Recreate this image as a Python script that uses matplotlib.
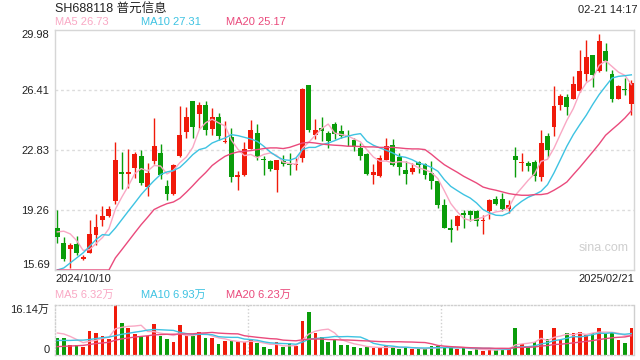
import numpy as np
import matplotlib
matplotlib.use("Agg")
import matplotlib.pyplot as plt

plt.rcParams['font.family'] = ['Liberation Sans', 'Noto Sans CJK SC', 'DejaVu Sans']

RED = '#f01a0a'
GREEN = '#0a9c0a'
C_MA5 = '#f9a8c4'
C_MA10 = '#3ec3e2'
C_MA20 = '#ea4a7c'

title = "SH688118 普元信息"
stamp = "02-21 14:17"
date_first = "2024/10/10"
date_last = "2025/02/21"
price_ticks = [15.69, 19.26, 22.83, 26.41, 29.98]
vol_max = 16.14

opens = [18.19, 17.30, 16.96, 17.24, 16.37, 16.73, 17.80, 18.69, 18.93, 19.82,
         21.53, 21.43, 21.77, 22.50, 20.65, 22.20, 22.64, 20.71, 20.24, 22.50,
         23.89, 25.73, 25.00, 25.50, 24.11, 24.78, 23.29, 23.61, 21.25, 21.37,
         22.90, 23.83, 22.30, 22.16, 21.67, 22.16, 22.02, 21.92, 22.36, 26.69,
         23.75, 24.15, 23.83, 24.38, 23.95, 23.71, 23.41, 22.96, 22.60, 21.37,
         21.31, 22.26, 23.13, 22.40, 21.63, 21.53, 22.10, 22.00, 21.47, 21.01,
         19.54, 18.19, 18.33, 19.05, 19.19, 19.19, 18.59, 19.19, 19.92, 19.92,
         19.32, 22.50, 22.06, 22.06, 22.10, 21.21, 23.69, 24.21, 25.50, 25.99,
         25.89, 26.37, 27.36, 28.47, 27.52, 28.71, 27.36, 25.89, 26.47, 25.60]
highs = [19.29, 17.64, 17.30, 17.74, 16.61, 18.65, 19.03, 19.48, 19.48, 23.31,
         22.70, 22.90, 22.70, 22.86, 22.06, 24.74, 23.19, 21.07, 22.00, 25.44,
         25.40, 25.77, 25.69, 25.73, 25.34, 25.04, 24.54, 24.15, 21.57, 23.29,
         24.62, 24.38, 22.46, 22.26, 22.26, 22.52, 22.66, 22.36, 26.53, 26.69,
         24.68, 24.78, 23.95, 24.50, 24.30, 24.05, 23.55, 23.25, 22.66, 22.00,
         22.56, 23.55, 23.49, 22.66, 22.16, 22.06, 22.20, 22.06, 22.16, 21.01,
         19.94, 18.73, 18.99, 19.29, 19.29, 19.25, 18.99, 19.92, 20.12, 20.28,
         19.88, 23.02, 22.66, 22.20, 22.26, 24.01, 23.85, 26.63, 26.17, 26.17,
         27.22, 28.81, 29.40, 28.51, 29.75, 29.21, 27.62, 26.73, 27.12, 27.02]
lows = [17.30, 16.25, 15.80, 16.61, 16.27, 16.73, 17.20, 18.29, 18.83, 19.62,
        20.52, 20.57, 21.17, 20.77, 20.08, 22.00, 21.11, 19.88, 20.18, 22.40,
        23.55, 23.55, 24.15, 23.73, 23.75, 23.43, 23.25, 20.91, 20.48, 21.31,
        22.90, 22.26, 21.37, 21.61, 20.32, 21.90, 21.37, 21.67, 22.12, 23.91,
        23.51, 23.35, 22.96, 23.51, 23.55, 23.06, 22.76, 22.22, 21.33, 20.81,
        21.21, 22.26, 21.86, 21.37, 20.83, 21.41, 21.47, 21.13, 20.52, 19.39,
        18.19, 17.36, 18.05, 18.19, 18.63, 18.33, 17.86, 18.73, 19.54, 19.19,
        19.09, 21.23, 21.57, 21.57, 21.01, 21.01, 22.42, 23.69, 25.24, 24.90,
        25.89, 26.29, 26.96, 26.57, 27.48, 27.52, 25.69, 25.87, 26.13, 24.90]
closes = [17.64, 16.37, 17.18, 16.69, 16.41, 17.84, 18.23, 18.93, 19.32, 22.24,
          21.43, 21.53, 22.60, 20.87, 21.47, 23.10, 21.37, 20.24, 21.96, 23.73,
          24.80, 24.23, 25.50, 24.05, 24.78, 23.69, 23.35, 21.25, 21.31, 22.90,
          24.03, 22.40, 22.22, 21.73, 22.22, 22.00, 21.96, 22.02, 26.47, 24.05,
          24.03, 23.99, 23.35, 23.79, 23.65, 23.63, 23.02, 22.50, 21.43, 21.53,
          22.36, 23.10, 21.92, 21.80, 21.43, 21.77, 21.92, 21.37, 21.01, 19.58,
          18.19, 18.09, 18.93, 18.99, 18.99, 18.59, 18.63, 19.88, 19.64, 19.32,
          19.58, 22.26, 22.12, 21.86, 21.31, 23.25, 22.86, 25.44, 26.03, 25.42,
          26.77, 27.56, 28.37, 27.32, 29.35, 28.11, 25.89, 26.67, 26.39, 26.83]

ma5 = [17.96, 18.00, 17.84, 17.44, 16.86, 16.90, 17.27, 17.62, 18.15, 19.31,
       20.03, 20.69, 21.42, 21.73, 21.58, 21.91, 21.88, 21.41, 21.63, 22.08,
       22.42, 22.99, 24.04, 24.46, 24.67, 24.45, 24.27, 23.42, 22.88, 22.50,
       22.57, 22.38, 22.57, 22.66, 22.52, 22.11, 22.03, 21.99, 22.93, 23.30,
       23.71, 24.11, 24.38, 23.84, 23.76, 23.68, 23.49, 23.32, 22.85, 22.42,
       22.17, 22.18, 22.07, 22.14, 22.12, 22.00, 21.77, 21.66, 21.50, 21.13,
       20.41, 19.65, 19.16, 18.76, 18.64, 18.72, 18.83, 19.02, 19.15, 19.21,
       19.41, 20.14, 20.58, 21.03, 21.43, 22.16, 22.28, 22.94, 23.78, 24.60,
       25.30, 26.24, 26.83, 27.09, 27.87, 28.14, 27.81, 27.47, 27.28, 26.73]
ma10 = [15.69, 15.81, 16.11, 16.41, 16.71, 17.10, 17.50, 17.80, 17.76, 18.19,
        18.69, 19.19, 19.68, 20.18, 20.61, 21.01, 21.37, 21.53, 21.61, 21.80,
        22.16, 22.56, 22.86, 22.96, 23.25, 23.41, 23.55, 23.75, 23.69, 23.59,
        23.49, 23.35, 23.06, 22.72, 22.46, 22.26, 22.22, 22.36, 22.86, 22.99,
        22.99, 23.15, 23.25, 23.39, 23.55, 23.65, 23.75, 23.81, 23.35, 23.12,
        22.96, 22.82, 22.66, 22.46, 22.40, 22.26, 22.06, 21.96, 21.80, 21.57,
        21.07, 20.67, 20.42, 20.18, 19.98, 19.68, 19.29, 19.09, 18.95, 18.93,
        19.09, 19.48, 19.78, 20.02, 20.18, 20.38, 20.77, 21.47, 22.26, 23.06,
        23.75, 24.34, 24.90, 25.54, 26.13, 26.63, 27.12, 27.22, 27.26, 27.31]
ma20 = [15.69, 15.69, 15.69, 15.69, 15.69, 15.69, 15.69, 15.69, 15.69, 16.41,
        16.90, 17.40, 17.90, 18.39, 18.83, 19.29, 19.48, 19.64, 19.74, 19.96,
        20.32, 20.71, 21.12, 21.49, 21.91, 22.20, 22.46, 22.62, 22.72, 22.76,
        22.80, 22.86, 22.92, 22.96, 22.96, 22.92, 22.99, 23.12, 23.25, 23.29,
        23.25, 23.19, 23.15, 23.12, 23.10, 23.06, 23.06, 23.04, 23.02, 23.02,
        22.99, 22.99, 22.99, 22.96, 22.92, 22.90, 22.90, 22.86, 22.58, 22.26,
        21.96, 21.73, 21.51, 21.27, 21.07, 20.87, 20.63, 20.52, 20.44, 20.34,
        20.24, 20.18, 20.14, 20.14, 20.18, 20.18, 20.24, 20.44, 20.67, 20.93,
        21.37, 21.80, 22.26, 22.72, 23.19, 23.71, 24.05, 24.38, 24.74, 25.17]

# volume, 万手
volume = [5.60, 5.38, 3.23, 3.23, 2.47, 7.85, 6.99, 6.24, 5.06, 16.14,
          10.22, 8.61, 6.78, 6.24, 6.13, 9.90, 6.13, 5.16, 4.09, 9.68,
          6.46, 6.13, 7.32, 5.38, 5.38, 3.44, 4.52, 4.52, 4.09, 4.30,
          4.84, 3.77, 2.47, 1.94, 4.09, 2.47, 3.77, 2.91, 10.98, 13.77,
          6.99, 5.92, 4.09, 4.84, 3.23, 3.23, 2.69, 2.15, 2.47, 2.15,
          2.58, 2.91, 2.47, 1.83, 2.69, 1.83, 1.83, 1.83, 3.01, 3.01,
          2.69, 2.37, 1.83, 2.37, 1.29, 1.83, 1.29, 1.83, 1.61, 2.37,
          1.83, 8.61, 3.44, 2.69, 4.09, 7.96, 5.06, 8.61, 4.84, 6.99,
          7.21, 7.53, 6.46, 7.21, 8.61, 7.21, 7.21, 4.84, 3.77, 8.61]
vma5 = [7.10, 6.80, 6.00, 5.00, 3.98, 4.43, 4.75, 5.36, 5.72, 8.46,
        8.93, 9.25, 9.36, 9.60, 7.60, 7.53, 7.04, 6.71, 6.28, 6.99,
        6.30, 6.30, 6.74, 6.99, 6.13, 5.53, 5.21, 4.65, 4.39, 4.17,
        4.45, 4.30, 3.89, 3.46, 3.42, 2.95, 2.95, 3.04, 4.84, 6.78,
        7.68, 8.11, 8.35, 7.12, 5.01, 4.26, 3.62, 3.23, 2.75, 2.54,
        2.41, 2.45, 2.52, 2.39, 2.50, 2.35, 2.13, 2.00, 2.24, 2.30,
        2.47, 2.58, 2.58, 2.45, 2.11, 1.94, 1.72, 1.72, 1.57, 1.79,
        1.79, 3.25, 3.57, 3.79, 4.13, 5.36, 4.65, 5.68, 6.11, 6.69,
        6.54, 7.04, 6.61, 7.08, 7.40, 7.40, 7.34, 7.02, 6.33, 6.32]
vma10 = [4.70, 4.70, 4.70, 4.80, 4.80, 5.00, 5.30, 5.60, 5.80, 6.22,
         6.68, 7.00, 7.36, 7.66, 8.03, 8.23, 8.15, 8.04, 7.94, 7.29,
         6.92, 6.67, 6.72, 6.64, 6.56, 5.92, 5.76, 5.69, 5.69, 5.15,
         4.99, 4.76, 4.27, 3.93, 3.80, 3.70, 3.63, 3.47, 4.15, 5.10,
         5.32, 5.53, 5.69, 5.98, 5.90, 5.97, 5.87, 5.79, 4.94, 3.78,
         3.34, 3.03, 2.87, 2.57, 2.52, 2.38, 2.29, 2.26, 2.31, 2.40,
         2.41, 2.36, 2.29, 2.35, 2.21, 2.21, 2.15, 2.15, 2.01, 1.95,
         1.86, 2.49, 2.65, 2.68, 2.96, 3.57, 3.95, 4.63, 4.95, 5.41,
         5.95, 5.84, 6.14, 6.60, 7.05, 6.97, 7.19, 6.81, 6.70, 6.93]
vma20 = [2.70, 2.80, 2.90, 3.00, 3.10, 3.40, 3.70, 3.90, 4.10, 4.80,
         5.20, 5.50, 5.80, 6.00, 6.20, 6.50, 6.60, 6.70, 6.70, 6.76,
         6.80, 6.84, 7.04, 7.15, 7.29, 7.07, 6.95, 6.86, 6.82, 6.22,
         5.96, 5.71, 5.50, 5.28, 5.18, 4.81, 4.69, 4.58, 4.92, 5.13,
         5.15, 5.14, 4.98, 4.96, 4.85, 4.84, 4.75, 4.63, 4.55, 4.44,
         4.33, 4.28, 4.28, 4.28, 4.21, 4.18, 4.08, 4.02, 3.63, 3.09,
         2.87, 2.70, 2.58, 2.46, 2.36, 2.29, 2.22, 2.21, 2.16, 2.17,
         2.14, 2.42, 2.47, 2.51, 2.58, 2.89, 3.05, 3.39, 3.48, 3.68,
         3.91, 4.16, 4.40, 4.64, 5.00, 5.27, 5.57, 5.72, 5.83, 6.23]

opens, highs, lows, closes = map(np.array, (opens, highs, lows, closes))
x = np.arange(len(closes))
colors = np.where(closes >= opens, RED, GREEN)

W, H = 640, 360
fig = plt.figure(figsize=(W / 100, H / 100), dpi=100)


def px(xp, yp):
    return xp / W, 1 - yp / H


# price panel
ax = fig.add_axes([55 / W, 90 / H, 579 / W, 240 / H])
ax.vlines(x, lows, highs, colors=colors, linewidth=1, zorder=2)
body_lo = np.minimum(opens, closes)
body_h = np.maximum(np.abs(closes - opens), 0.07)
ax.bar(x, body_h, bottom=body_lo, width=0.76, color=colors, linewidth=0, zorder=3)
ax.plot(x, ma5, color=C_MA5, lw=1.0, zorder=4)
ax.plot(x, ma10, color=C_MA10, lw=1.0, zorder=4)
ax.plot(x, ma20, color=C_MA20, lw=1.0, zorder=4)
ax.set_xlim(-0.36, 89.41)
ax.set_ylim(price_ticks[0], price_ticks[-1])
ax.set_xticks([])
ax.set_yticks(price_ticks)
ax.set_yticklabels([f"{v:.2f}" for v in price_ticks])
labs = ax.get_yticklabels()
labs[0].set_va('bottom')
labs[-1].set_va('top')
ax.tick_params(axis='y', length=0, pad=4, labelsize=8, labelcolor='#222222')
for v in price_ticks[1:-1]:
    ax.axhline(v, color='#dcdcdc', lw=1, ls=(0, (2, 2)), zorder=1)
for s in ax.spines.values():
    s.set_color('#d6d6d6')
    s.set_linewidth(1)
ax.text(0.99, 0.09, "sina.com", transform=ax.transAxes, ha='right', va='center',
        fontsize=9, color='#cfcfcf')

# volume panel
vx = fig.add_axes([55 / W, 5 / H, 579 / W, 50 / H])
vx.bar(x, volume, width=0.56, color=colors, linewidth=0, zorder=2)
vx.plot(x, vma5, color=C_MA5, lw=1.0, zorder=3)
vx.plot(x, vma10, color=C_MA10, lw=1.0, zorder=3)
vx.plot(x, vma20, color=C_MA20, lw=1.0, zorder=3)
vx.set_xlim(-0.36, 89.41)
vx.set_ylim(0, vol_max)
vx.set_xticks([])
vx.set_yticks([0, vol_max])
vx.set_yticklabels(["0", f"{vol_max:.2f}万"])
vl = vx.get_yticklabels()
vl[0].set_va('bottom')
vl[1].set_va('top')
vx.tick_params(axis='y', length=0, pad=4, labelsize=8, labelcolor='#222222')
lo, hi = vx.get_xlim()
for k in (1, 2):
    vx.axvline(lo + (hi - lo) * k / 3, color='#cfcfcf', lw=1, ls=(0, (1, 1.5)), zorder=1)
for name, s in vx.spines.items():
    s.set_color('#cfcfcf')
    s.set_linewidth(1)
    if name != 'right':
        s.set_linestyle((0, (1, 1.5)))

# texts
fig.text(*px(55, 10), title, ha='left', va='center', fontsize=9, color='#222222')
fig.text(*px(637, 10), stamp, ha='right', va='center', fontsize=8, color='#222222')
fig.text(*px(55, 22), f"MA5 {ma5[-1]:.2f}", ha='left', va='center', fontsize=8, color=C_MA5)
fig.text(*px(141, 22), f"MA10 {ma10[-1]:.2f}", ha='left', va='center', fontsize=8, color=C_MA10)
fig.text(*px(226, 22), f"MA20 {ma20[-1]:.2f}", ha='left', va='center', fontsize=8, color=C_MA20)
fig.text(*px(55, 279), date_first, ha='left', va='center', fontsize=8, color='#222222')
fig.text(*px(634, 279), date_last, ha='right', va='center', fontsize=8, color='#222222')
fig.text(*px(55, 295), f"MA5 {vma5[-1]:.2f}万", ha='left', va='center', fontsize=8, color=C_MA5)
fig.text(*px(141, 295), f"MA10 {vma10[-1]:.2f}万", ha='left', va='center', fontsize=8, color=C_MA10)
fig.text(*px(226, 295), f"MA20 {vma20[-1]:.2f}万", ha='left', va='center', fontsize=8, color=C_MA20)

fig.savefig("out.png", dpi=100)
